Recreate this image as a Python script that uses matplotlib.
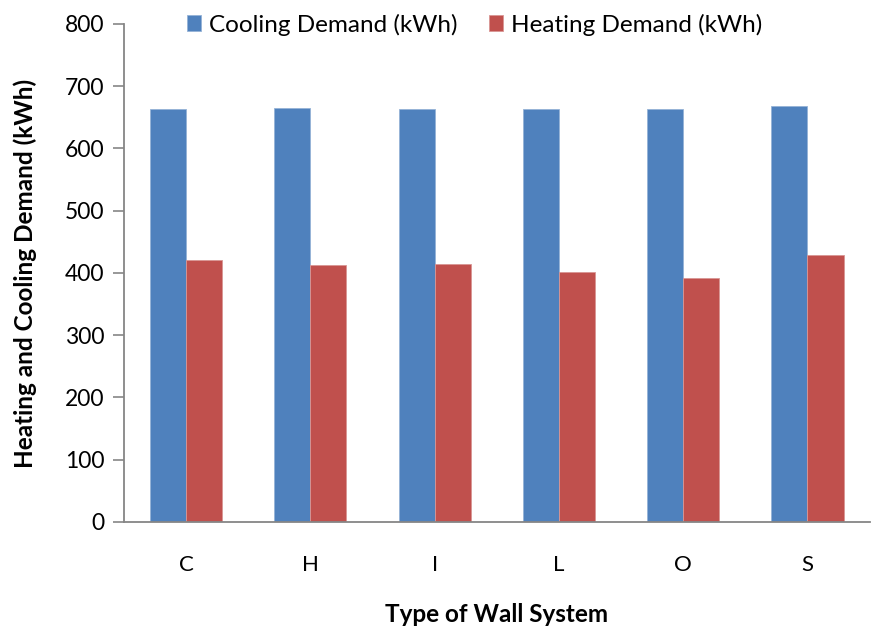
import matplotlib
matplotlib.use("Agg")
import matplotlib.pyplot as plt
import numpy as np

plt.rcParams['font.family'] = ['Lato', 'DejaVu Sans']

wall_types = ["C", "H", "I", "L", "O", "S"]
cooling_kwh = [664, 665, 664, 663, 663, 668]
heating_kwh = [421, 413, 415, 402, 392, 429]
y_ticks = [0, 100, 200, 300, 400, 500, 600, 700, 800]

blue = "#4F81BD"
red = "#C0504D"
axis_grey = "#868686"

fig = plt.figure(figsize=(8.71, 6.28), dpi=100)
ax = fig.add_axes([0.1424, 0.1688, 0.856, 0.793])

x = np.arange(len(wall_types))
w = 0.29
ax.bar(x - w / 2, cooling_kwh, w, color=blue, label="Cooling Demand (kWh)",
       edgecolor="#95B3D7", linewidth=0.6)
ax.bar(x + w / 2, heating_kwh, w, color=red, label="Heating Demand (kWh)",
       edgecolor="#D99694", linewidth=0.6)

ax.set_xlim(-0.5, len(wall_types) - 0.5)
ax.set_ylim(0, 800)
ax.set_yticks(y_ticks)
ax.set_xticks(x)
ax.set_xticklabels(wall_types)

for s in ["top", "right"]:
    ax.spines[s].set_visible(False)
for s in ["left", "bottom"]:
    ax.spines[s].set_color(axis_grey)
    ax.spines[s].set_linewidth(1.3)

ax.tick_params(axis="y", direction="out", length=8, width=1.2, color=axis_grey,
               labelsize=16.5, pad=6)
ax.tick_params(axis="x", length=0, labelsize=16, pad=24)

ax.set_ylabel("Heating and Cooling Demand (kWh)", fontsize=17.5, fontweight="bold",
              labelpad=20)
ax.set_xlabel("Type of Wall System", fontsize=17.5, fontweight="bold", labelpad=20)

ax.legend(loc="upper center", bbox_to_anchor=(0.47, 1.065), ncol=2, frameon=False,
          fontsize=17.5, handlelength=0.6, handleheight=0.6, handletextpad=0.3,
          columnspacing=1.3)

fig.savefig("out.png", dpi=100)
